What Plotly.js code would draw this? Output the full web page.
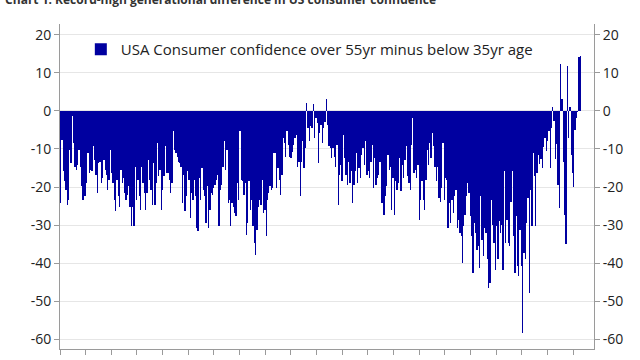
<!DOCTYPE html>
<html>
<head>
<meta charset="utf-8">
<script src="https://cdn.plot.ly/plotly-3.0.1.min.js"></script>
<style>html,body{margin:0;padding:0;background:#fff;}#chart{width:640px;height:360px;}</style>
</head>
<body>
<div id="chart"></div>
<script>
// Monthly spread: consumer confidence of over-55s minus under-35s, in chronological segments
const seg1 = [-24.2,-7.6,-15.9,-18.5,-20.7,-24.6,-23.3,-10.2,-13.7,-1.3,-8.5,-14.6,-15.5,-14.1,-10.2,-14.6,-19.8,-23.3,-22.4,-22.4,-19.0,-11.1,-16.3,-15.5,-15.9,-9.3,-12.8,-16.8,-21.6,-13.7,-13.3,-19.0,-17.6,-12.8,-15.5,-16.8,-20.7,-18.1,-10.2,-16.3,-19.0,-23.3,-26.4,-18.1,-22.4,-25.1,-15.5,-19.0,-17.6,-21.6,-23.3,-22.0,-19.8,-25.1,-30.3,-25.1,-30.3,-14.6,-23.3,-18.1,-22.4,-25.9,-14.6,-19.0,-21.6,-25.9,-21.6,-12.8,-18.1,-20.7,-24.6,-13.7,-24.6,-19.0,-8.5,-17.2,-15.5,-25.9,-20.7,-17.2,-9.3,-16.3];
const seg2 = [-16.3,-18.1,-21.6,-19.0,-5.4,-10.2,-11.1,-12.0,-13.3,-13.7,-14.6,-24.2,-16.8,-26.4,-22.4,-15.9,-18.1,-28.1,-21.6,-23.3,-18.1,-22.4,-30.7,-31.6,-17.6,-23.3,-15.0,-20.7,-22.4,-29.4,-19.8,-30.7,-25.9,-21.6,-22.0,-20.3,-19.4,-18.1,-16.8,-30.3,-20.7,-19.4,-14.6,-8.0,-15.5,-10.2,-24.2,-23.3,-30.3,-24.2,-25.1,-26.8,-27.7,-19.0,-23.3,-5.4,-18.1,-18.5,-22.0,-19.0,-32.5,-29.4,-18.5,-25.9,-23.3,-30.3,-34.7,-37.7,-31.2,-25.1,-23.3,-24.6,-18.1,-26.8,-25.9,-32.9,-23.3,-21.6,-19.8,-20.7,-20.3,-11.1];
const seg3 = [-11.1,-20.3,-15.0,-18.1,-22.0,-16.8,-7.2,-8.5,-12.0,-5.4,-8.9,-12.0,-12.4,-10.7,-8.9,-7.2,-6.3,-14.6,-13.3,-22.4,-13.3,-8.0,-15.0,-9.8,2.0,-4.5,-8.0,-4.1,-4.5,1.7,-7.2,-1.9,-3.2,-13.7,-5.9,-3.7,-8.5,-4.5,-2.8,3.1,-3.7,-9.3,-9.8,-12.4,-9.8,-12.0,-14.6,-8.9,-24.6,-16.8,-14.1,-18.5,-6.3,-12.4,-16.8,-19.4,-13.3,-19.0,-15.9,-24.2,-19.4,-15.9,-11.1,-19.0,-15.0,-17.6,-11.5,-9.8,-14.1,-8.0,-16.8,-15.9,-17.6,-13.3,-8.9,-20.3,-12.4,-19.4,-17.6,-16.8,-13.3,-24.2];
const seg4 = [-24.2,-27.2,-22.4,-19.8,-11.5,-15.5,-14.6,-25.9,-17.6,-27.2,-18.5,-20.7,-19.0,-12.4,-21.1,-14.1,-17.6,-12.8,-9.3,-17.2,-19.0,-20.7,-8.9,-1.9,-16.3,-15.5,-17.6,-14.1,-28.6,-23.3,-18.5,-23.3,-25.9,-18.1,-10.2,-14.1,-8.5,-12.4,-5.9,-9.3,-14.6,-18.5,-14.6,-22.9,-23.8,-20.3,-8.5,-23.3,-17.6,-18.1,-30.7,-24.2,-29.4,-23.3,-26.8,-22.4,-20.7,-30.7,-28.6,-32.1,-32.9,-39.9,-30.3,-27.2,-22.4,-19.0,-21.6,-27.7,-32.9,-42.5,-29.4,-32.1,-36.4,-35.5,-41.2,-22.4,-33.8,-38.2,-30.7,-32.1,-39.0,-46.5];
const seg5 = [-45.2,-23.3,-29.9,-34.7,-41.7,-30.3,-39.0,-29.0,-32.1,-29.9,-41.7,-15.9,-34.7,-28.6,-34.7,-35.5,-23.8,-15.9,-32.9,-42.5,-27.7,-40.8,-43.4,-31.2,-40.8,-58.3,-37.3,-39.0,-29.4,-22.9,-47.8,-20.7,-30.3,-11.1,-17.2,-30.3,-16.3];
const seg6 = [-11.5,-14.0,-12.7,-15.0,-9.6,-7.0,-10.5,-7.9,-5.3,-15.0,-4.4,1.0,-2.7,-12.7,-8.8,-19.4,-25.6,12.3,3.0,-13.3,-27.4,-34.9,11.7,-7.0,1.0,-11.5,-16.4,-19.9,-4.9,-1.8,-0.4,14.1,14.3];

const seriesName = "USA Consumer confidence over 55yr minus below 35yr age";
const chartTitle = "Chart 1: Record-high generational difference in US consumer confidence";
const yTickVals = [20, 10, 0, -10, -20, -30, -40, -50, -60];
const yTickText = ["20", "10", "0", "-10", "-20", "-30", "-40", "-50", "-60"];
const xTickCount = 21;

const values = [].concat(seg1, seg2, seg3, seg4, seg5, seg6);
const idx = values.map((_, i) => i);
const N = values.length;
const xMax = -0.5 + N * 1.025;
const tickStep = (xMax + 0.5) * 25.65 / 534;
const xTicks = Array.from({length: xTickCount}, (_, k) => -0.5 + k * tickStep);

const yRange = [-62.5, 22.8];
const axisCol = '#9a9a9a';
const txtFont = {family: 'Open Sans, sans-serif', size: 14, color: '#222'};

const traces = [
  {type: 'bar', x: idx, y: values, name: seriesName,
   marker: {color: '#0000a0', line: {width: 0}}, hoverinfo: 'y'},
  {type: 'scatter', x: [], y: [], yaxis: 'y2', showlegend: false, hoverinfo: 'skip'}
];

const layout = {
  width: 640, height: 360,
  margin: {l: 60, r: 46, t: 24, b: 11},
  paper_bgcolor: '#fff', plot_bgcolor: '#fff',
  bargap: 0,
  title: {text: chartTitle, x: 0.008, xanchor: 'left', xref: 'container',
          y: 1, yanchor: 'middle', yref: 'container',
          font: {family: 'Open Sans, sans-serif', size: 12, color: '#333', weight: 'bold'}},
  showlegend: true,
  legend: {x: 0.039, y: 0.972, xanchor: 'left', yanchor: 'top', bgcolor: 'rgba(0,0,0,0)',
           itemwidth: 30,
           font: {family: 'Open Sans, sans-serif', size: 15, color: '#222'}},
  xaxis: {range: [-0.5, xMax], tickvals: xTicks, showticklabels: false, ticks: 'outside',
          ticklen: 5, tickcolor: axisCol, showgrid: false, zeroline: false,
          showline: true, linecolor: axisCol, linewidth: 1},
  yaxis: {range: yRange, tickvals: yTickVals, ticktext: yTickText, ticks: 'outside',
          ticklen: 5, tickcolor: axisCol, showgrid: true, gridcolor: '#e6e6e6', gridwidth: 1,
          zeroline: false, showline: true, linecolor: axisCol, linewidth: 1,
          tickfont: txtFont},
  yaxis2: {overlaying: 'y', side: 'right', range: yRange, tickvals: yTickVals, ticktext: yTickText,
           ticks: 'outside', ticklen: 5, tickcolor: axisCol, showgrid: false, zeroline: false,
           showline: true, linecolor: axisCol, linewidth: 1, tickfont: txtFont}
};

Plotly.newPlot('chart', traces, layout, {displayModeBar: false, staticPlot: true});
</script>
</body>
</html>
